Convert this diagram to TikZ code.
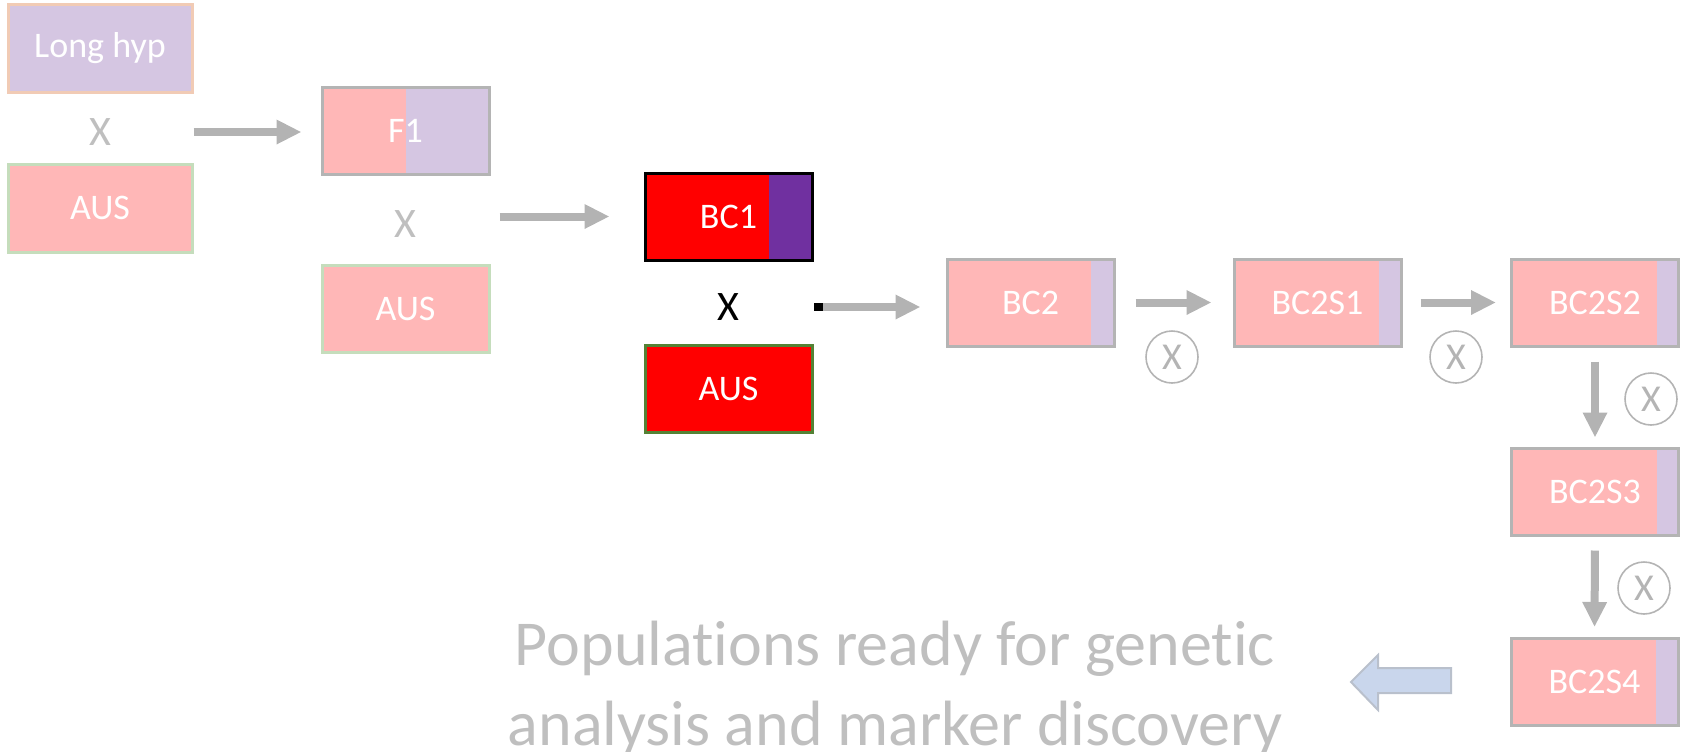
\documentclass[tikz,border=0pt]{standalone}
\usepackage{fontspec}
\setmainfont[Ligatures=NoCommon]{Carlito}
\usetikzlibrary{arrows.meta,positioning,calc}

\definecolor{pinkbox}{HTML}{FFB7B7}
\definecolor{lavbox}{HTML}{D5C6E2}
\definecolor{redbox}{HTML}{FF0000}
\definecolor{purplebox}{HTML}{7030A0}
\definecolor{arrowgray}{HTML}{B3B3B3}
\definecolor{boxline}{HTML}{B4B4B4}
\definecolor{textgray}{HTML}{BFBFBF}
\definecolor{tanline}{HTML}{F1CBB5}
\definecolor{greenline}{HTML}{C5DDBC}
\definecolor{darkgreen}{HTML}{548235}
\definecolor{bluefill}{HTML}{C9D6EC}
\definecolor{blueline}{HTML}{B9C0CC}

\begin{document}
\begin{tikzpicture}[x=0.5pt, y=-0.5pt,
    strain/.style={rectangle, minimum width=83.5pt, minimum height=43.5pt, inner sep=0pt,
        line width=1.5pt, text=white, font=\fontsize{18}{20}\selectfont},
    strip/.style 2 args={path picture={\fill[#1] ([xshift=-#2]path picture bounding box.north east)
        rectangle (path picture bounding box.south east);}},
    cross/.style={text=textgray, font=\fontsize{21}{24}\selectfont},
    selfed/.style={circle, draw=boxline, line width=0.8pt, minimum size=26pt, inner sep=0pt,
        text=boxline, font=\fontsize{19}{22}\selectfont},
    flow/.style={draw=arrowgray, line width=4pt, -{Triangle[length=12.5pt,width=11.5pt]}}]
    \useasboundingbox (0,0) rectangle (1681,751);

    % Parents
    \node[strain, minimum width=92pt, minimum height=44pt, fill=lavbox, draw=tanline] (longhyp) at (100,48) {Long hyp};
    \node[cross] (xa) at (100,132) {X};
    \node[strain, minimum width=92pt, minimum height=44pt, fill=pinkbox, draw=greenline] (ausa) at (100,208) {AUS};

    % F1 and backcrosses
    \node[strain, fill=pinkbox, draw=boxline, strip={lavbox}{41.75pt}] (fone) at (405.5,131) {F1};
    \node[cross] (xb) at (405.5,224) {X};
    \node[strain, fill=pinkbox, draw=greenline] (ausb) at (405.5,309) {AUS};

    \node[strain, fill=redbox, draw=black, strip={purplebox}{21.5pt}] (bcone) at (728.5,216.5) {BC1};
    \node[cross, text=black] (xc) at (728.5,307) {X};
    \node[strain, fill=redbox, draw=darkgreen] (ausc) at (728.5,388.5) {AUS};

    \node[strain, fill=pinkbox, draw=boxline, strip={lavbox}{11.5pt}] (bctwo) at (1030.5,302.5) {BC2};
    \node[strain, fill=pinkbox, draw=boxline, strip={lavbox}{11pt}] (bctwosone) at (1317.5,302.5) {BC2S1};
    \node[strain, fill=pinkbox, draw=boxline, strip={lavbox}{11pt}] (bctwostwo) at (1595,302.5) {BC2S2};
    \node[strain, fill=pinkbox, draw=boxline, strip={lavbox}{11pt}] (bctwosthree) at (1595,491.5) {BC2S3};
    \node[strain, fill=pinkbox, draw=boxline, strip={lavbox}{11pt}] (bctwosfour) at (1594.5,682) {BC2S4};

    % Selfing marks
    \node[selfed] (sone) at (1172,357) {X};
    \node[selfed] (stwo) at (1456,357) {X};
    \node[selfed] (sthree) at (1651,399) {X};
    \node[selfed] (sfour) at (1644,588) {X};

    % Crossing arrows
    \draw[flow, shorten >=9.5pt] (longhyp.east |- xa) -- (xa -| fone.west);
    \draw[flow, shorten <=4.5pt, shorten >=17pt] (fone.east |- bcone) -- (bcone.west);
    \draw[flow, {Square[length=4.5pt,width=4pt,color=black]}-{Triangle[length=12.5pt,width=11.5pt]},
        shorten >=12.5pt] (bcone.east |- xc) -- (xc -| bctwo.west);
    \draw[flow, shorten <=10pt, shorten >=10.5pt] (bctwo.east) -- (bctwosone.west);
    \draw[flow, shorten <=9pt, shorten >=7pt] (bctwosone.east) -- (bctwostwo.west);
    \draw[flow, shorten <=7pt, shorten >=4.5pt] (bctwostwo.south) -- (bctwosthree.north);
    \draw[flow, shorten <=7pt, shorten >=5pt] (bctwosthree.south) -- (bctwosfour.north);

    % Outcome
    \filldraw[fill=bluefill, draw=blueline, line width=1pt] (1451,668) -- (1378,668) -- (1378,655)
        -- (1351,682) -- (1378,710) -- (1378,693) -- (1451,693) -- cycle;
    \node[text=textgray, font=\fontsize{32}{40}\selectfont, align=center] (ready) at (895,688)
        {Populations ready for genetic\\analysis and marker discovery};
\end{tikzpicture}
\end{document}
